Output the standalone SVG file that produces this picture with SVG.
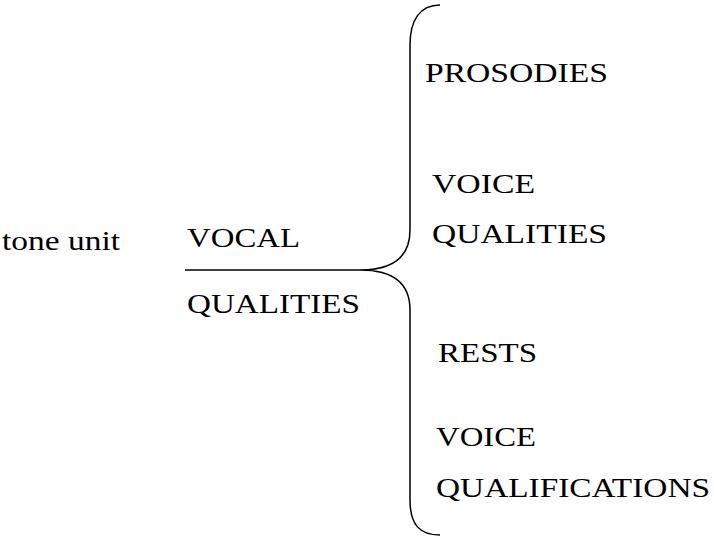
<svg xmlns="http://www.w3.org/2000/svg" width="714" height="542" viewBox="0 0 714 542">
<style>text{font-family:"Liberation Serif",serif;font-size:28px;fill:#000}.l{fill:none;stroke:#000;stroke-width:1.5}</style>
<rect width="714" height="542" fill="#fff"/>
<g id="connectors">
<path class="l" d="M185,270 H360"/>
<path class="l" d="M440,5 C420,5 410,20 410,45 L410,230 C410,255 395,270 360,270 C395,270 410,285 410,310 L410,500 C410,525 420,535 440,535"/>
</g>
<g id="tone"><text x="2" y="250" textLength="118" lengthAdjust="spacingAndGlyphs">tone unit</text></g>
<g id="vocal"><text x="187" y="247" textLength="113" lengthAdjust="spacingAndGlyphs">VOCAL</text><text x="187" y="313" textLength="173" lengthAdjust="spacingAndGlyphs">QUALITIES</text></g>
<g id="prosodies"><text x="425" y="82" textLength="183" lengthAdjust="spacingAndGlyphs">PROSODIES</text></g>
<g id="voiceq"><text x="432" y="193" textLength="103" lengthAdjust="spacingAndGlyphs">VOICE</text><text x="432" y="243" textLength="175" lengthAdjust="spacingAndGlyphs">QUALITIES</text></g>
<g id="rests"><text x="438" y="362" textLength="99" lengthAdjust="spacingAndGlyphs">RESTS</text></g>
<g id="voicequal"><text x="436" y="446" textLength="100" lengthAdjust="spacingAndGlyphs">VOICE</text><text x="436" y="497" textLength="274" lengthAdjust="spacingAndGlyphs">QUALIFICATIONS</text></g>
</svg>
